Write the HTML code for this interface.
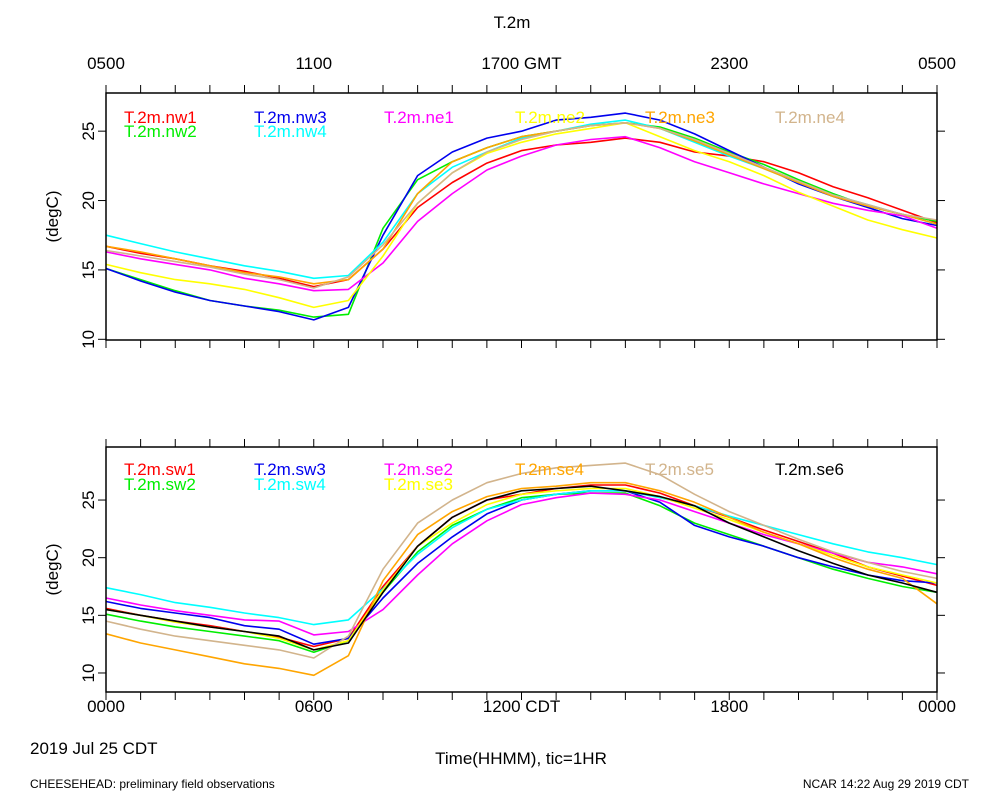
<!DOCTYPE html>
<html><head><meta charset="utf-8"><style>
body{margin:0;background:#fff}
svg{display:block;font-family:"Liberation Sans",sans-serif}
</style></head><body>
<svg id="c" width="1000" height="800" viewBox="0 0 1000 800" xmlns="http://www.w3.org/2000/svg"></svg>
<script>
const hours=[0,1,2,3,4,5,6,7,8,9,10,11,12,13,14,15,16,17,18,19,20,21,22,23,24];
const topNames=["T.2m.nw1","T.2m.nw2","T.2m.nw3","T.2m.nw4","T.2m.ne1","T.2m.ne2","T.2m.ne3","T.2m.ne4"];
const topColors=["#ff0000","#00ee00","#0000ee","#00ffff","#ff00ff","#ffff00","#ffa500","#d2b48c"];
const nw1=[16.7,16.2,15.8,15.3,14.9,14.4,13.8,14.3,16.5,19.5,21.3,22.7,23.6,24.0,24.2,24.5,24.2,23.5,23.2,22.8,22.0,21.0,20.2,19.3,18.4];
const nw2=[15.1,14.3,13.5,12.8,12.4,12.1,11.6,11.8,18.0,21.5,22.8,23.8,24.6,25.0,25.4,25.6,25.3,24.5,23.5,22.6,21.5,20.5,19.6,19.0,18.5];
const nw3=[15.1,14.2,13.4,12.8,12.4,12.0,11.4,12.3,17.5,21.8,23.5,24.5,25.0,25.8,26.0,26.3,25.8,24.8,23.6,22.4,21.2,20.3,19.5,18.7,18.2];
const nw4=[17.5,16.9,16.3,15.8,15.3,14.9,14.4,14.6,17.0,20.5,22.4,23.5,24.5,25.0,25.5,25.8,25.2,24.2,23.2,22.3,21.3,20.4,19.7,19.0,18.3];
const ne1=[16.3,15.8,15.4,15.0,14.4,14.0,13.5,13.6,15.5,18.5,20.5,22.2,23.2,24.0,24.4,24.6,23.8,22.8,22.0,21.2,20.5,19.8,19.3,18.9,18.0];
const ne2=[15.4,14.8,14.3,14.0,13.6,13.0,12.3,12.8,16.0,19.8,22.0,23.4,24.2,24.8,25.2,25.6,24.6,23.6,22.8,21.8,20.6,19.6,18.6,17.9,17.3];
const ne3=[16.7,16.3,15.8,15.3,14.8,14.5,14.0,14.3,16.5,20.5,22.8,23.8,24.6,25.0,25.4,25.6,25.2,24.3,23.3,22.3,21.3,20.3,19.6,19.0,18.3];
const ne4=[16.4,16.0,15.6,15.2,14.7,14.3,13.7,14.5,16.8,19.8,22.0,23.5,24.4,25.0,25.4,25.6,25.2,24.4,23.4,22.4,21.4,20.4,19.7,19.0,18.6];
const botNames=["T.2m.sw1","T.2m.sw2","T.2m.sw3","T.2m.sw4","T.2m.se2","T.2m.se3","T.2m.se4","T.2m.se5","T.2m.se6"];
const botColors=["#ff0000","#00ee00","#0000ee","#00ffff","#ff00ff","#ffff00","#ffa500","#d2b48c","#000000"];
const sw1=[15.6,15.0,14.5,14.1,13.6,13.1,12.3,13.0,17.5,21.0,23.5,25.0,25.5,26.0,26.3,26.3,25.6,24.5,23.5,22.4,21.4,20.4,19.2,18.4,17.6];
const sw2=[15.1,14.5,14.0,13.6,13.2,12.8,11.8,12.8,17.0,20.5,22.8,24.2,25.2,25.5,25.6,25.6,24.5,23.0,22.0,21.0,20.0,19.0,18.2,17.5,17.0];
const sw3=[16.2,15.6,15.2,14.8,14.1,13.8,12.5,13.0,16.5,19.5,21.8,23.8,25.0,25.5,25.8,25.8,24.8,22.8,21.8,21.0,20.0,19.2,18.5,18.0,17.8];
const sw4=[17.4,16.8,16.1,15.7,15.2,14.8,14.2,14.6,17.3,20.3,22.6,24.2,25.0,25.5,25.8,25.8,25.2,24.5,23.6,22.8,22.0,21.2,20.5,20.0,19.4];
const se2=[16.5,15.9,15.4,15.0,14.6,14.5,13.3,13.6,15.5,18.5,21.2,23.2,24.6,25.2,25.6,25.5,25.0,24.0,23.0,22.0,21.2,20.4,19.6,19.2,18.6];
const se3=[15.5,15.0,14.4,14.0,13.6,13.0,12.0,12.8,17.2,21.0,23.0,24.6,25.5,25.8,26.0,26.0,25.3,24.3,23.3,22.2,21.2,20.2,19.2,18.5,17.8];
const se4=[13.4,12.6,12.0,11.4,10.8,10.4,9.8,11.5,18.0,22.0,24.0,25.3,26.0,26.2,26.5,26.5,25.8,24.8,23.5,22.2,21.2,20.0,19.0,18.2,16.0];
const se5=[14.5,13.8,13.2,12.8,12.4,12.0,11.3,13.2,19.0,23.0,25.0,26.5,27.3,27.8,28.0,28.2,27.2,25.5,24.0,22.8,21.6,20.5,19.6,18.8,18.2];
const se6=[15.5,15.0,14.5,14.0,13.6,13.2,12.0,12.6,17.0,21.0,23.5,25.0,25.8,26.0,26.2,25.8,25.3,24.5,23.0,21.8,20.6,19.5,18.5,17.8,17.0];
const yTicks=[10,15,20,25];
const bottomLabels=["0000","0600","1200 CDT","1800","0000"];
const topLabels=["0500","1100","1700 GMT","2300","0500"];

const svg=document.getElementById('c');
const NS="http://www.w3.org/2000/svg";
function mk(tag,attrs,name,parent){const e=document.createElementNS(NS,tag);for(const k in attrs)e.setAttribute(k,attrs[k]);


(parent||svg).appendChild(e);return e;}
const X0=106,X1=937;
const xs=h=>X0+(X1-X0)*h/24;
function txt(x,y,s,size,anchor,fill,name,rot){const t=mk('text',{x:x,y:y,'font-size':size,'text-anchor':anchor||'start',fill:fill||'#000'},name);if(rot)t.setAttribute('transform',rot);t.textContent=s;return t;}

function panel(pid,top,bot,vmin,vmax,series,names,colors,legendYs){
  const ys=v=>bot-(bot-top)*(v-vmin)/(vmax-vmin);
  const g=mk('g',{},pid+'-panel');
  for(let i=0;i<series.length;i++){
    const d=series[i].map((v,j)=>(j?'L':'M')+xs(hours[j]).toFixed(1)+','+ys(v).toFixed(1)).join('');
    mk('path',{d:d,fill:'none',stroke:colors[i],'stroke-width':1.6,'stroke-linejoin':'round'},pid+'-line-'+names[i].split('.').pop(),g);
  }
  mk('rect',{x:X0,y:top,width:X1-X0,height:bot-top,fill:'none',stroke:'#000','stroke-width':1.5},pid+'-frame',g);
  for(let h=0;h<=24;h++){
    const x=xs(h);
    mk('line',{x1:x,y1:top,x2:x,y2:top-8,stroke:'#000','stroke-width':1},pid+'-x-tick-top',g);
    mk('line',{x1:x,y1:bot,x2:x,y2:bot+8,stroke:'#000','stroke-width':1},pid+'-x-tick-bottom',g);
  }
  yTicks.forEach(v=>{const y=ys(v);
    mk('line',{x1:X0-8,y1:y,x2:X0,y2:y,stroke:'#000'},pid+'-y-tick',g);
    mk('line',{x1:X1,y1:y,x2:X1+8,y2:y,stroke:'#000'},pid+'-y-tick-right',g);
    txt(88,y,String(v),17,'middle','#000',pid+'-y-tick-label','rotate(-90 88 '+y+') translate(0 6)');
  });
  txt(52,(top+bot)/2,'(degC)',17,'middle','#000',pid+'-y-axis-title','rotate(-90 52 '+(top+bot)/2+') translate(0 6)');
  const lx=[124,254,384,515,645,775];
  names.forEach((n,i)=>{
    let col,row;
    if(i<4){col=Math.floor(i/2);row=i%2;}else{const k=i-4;col=2+Math.floor(k/2);row=k%2;}
    if(pid==='top'){ if(i>=4){col=2+(i-4);row=0;} }
    if(pid==='bottom'){ const map=[[0,0],[0,1],[1,0],[1,1],[2,0],[2,1],[3,0],[4,0],[5,0]]; col=map[i][0];row=map[i][1]; }
    txt(lx[col],legendYs[row],n,17,'start',colors[i],pid+'-legend-'+n.split('.').pop());
  });
  return ys;
}
panel('top',93,340,9.95,27.75,[nw1,nw2,nw3,nw4,ne1,ne2,ne3,ne4],topNames,topColors,[123,137]);
panel('bottom',447,692,8.35,29.6,[sw1,sw2,sw3,sw4,se2,se3,se4,se5,se6],botNames,botColors,[475,490]);

txt(512,28,'T.2m',17,'middle','#000','chart-title');
topLabels.forEach((s,i)=>txt(xs(i*6),69,s,17,'middle','#000','top-x-tick-label'));
bottomLabels.forEach((s,i)=>txt(xs(i*6),712,s,17,'middle','#000','bottom-x-tick-label'));
txt(30,754,'2019 Jul 25 CDT',17,'start','#000','date-label');
txt(521,764,'Time(HHMM), tic=1HR',17,'middle','#000','x-axis-title');
txt(30,788,'CHEESEHEAD: preliminary field observations',12,'start','#000','footer-left');
txt(969,788,'NCAR 14:22 Aug 29 2019 CDT',12,'end','#000','footer-right');
</script>
</body></html>
